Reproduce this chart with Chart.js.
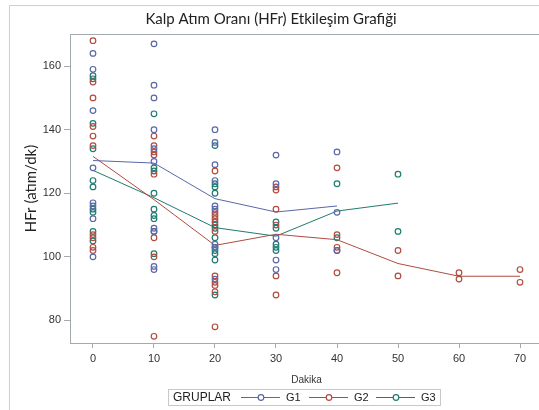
<!DOCTYPE html>
<html>
<head>
<meta charset="utf-8">
<script src="https://cdn.jsdelivr.net/npm/chart.js@4/dist/chart.umd.min.js"></script>
<style>
  html, body { margin: 0; padding: 0; background: #fff; overflow: hidden; }
  canvas { display: block; }
</style>
</head>
<body>
<canvas id="myChart" width="548" height="410"></canvas>
<script>
// minutes on the x axis
const dakika = [0, 10, 20, 30, 40, 50, 60, 70];
const xTicks = [0, 10, 20, 30, 40, 50, 60, 70];
const yTicks = [80, 100, 120, 140, 160];
const groups = ["G1", "G2", "G3"];

// individual HFr readings, one inner array per minute
const g1Values = [
  [164, 159, 146, 128, 117, 116, 112, 100],
  [167, 154, 150, 140, 134, 130, 109, 108, 97, 96],
  [140, 136, 129, 124, 116, 115, 104, 103, 93],
  [132, 123, 106, 99, 96],
  [133, 114, 102],
];
const g2Values = [
  [168, 155, 150, 141, 138, 135, 107, 106, 103, 102],
  [138, 135, 133, 132, 126, 106, 100, 75],
  [127, 114, 113, 112, 111, 108, 94, 92, 91, 89, 78],
  [122, 121, 115, 110, 94, 88],
  [128, 107, 103, 102, 95],
  [102, 94],
  [95, 93],
  [96, 92],
];
const g3Values = [
  [157, 156, 142, 134, 124, 122, 115, 114, 108, 105],
  [145, 128, 127, 120, 115, 113, 112, 108, 101],
  [135, 123, 122, 120, 110, 109, 106, 103, 102, 101, 99, 88],
  [111, 109, 104, 103, 102],
  [123, 106],
  [126, 108],
];

// group means per minute
const g1Mean = [130.3, 129.5, 118.3, 114.1, 116.0];
const g2Mean = [131.6, 118.0, 103.6, 107.1, 105.4, 97.9, 93.9, 93.9];
const g3Mean = [127.2, 118.6, 109.2, 106.5, 114.4, 116.9];

const colors = ["#5a67a8", "#b14b3f", "#1f7b70"];
const axisColor = "#a2aaae";

/**
 * Flatten per-minute readings into scatter points
 * @param {array} values one array of readings per minute
 * @returns array of {x, y}
 */
const toPoints = (values) =>
  values.flatMap((readings, i) => readings.map((v) => ({ x: dakika[i], y: v })));

const toLine = (means) => means.map((v, i) => ({ x: dakika[i], y: v }));

const createDatasets = () => {
  const all = [g1Values, g2Values, g3Values];
  const means = [g1Mean, g2Mean, g3Mean];
  const sets = [];
  groups.forEach((name, i) => {
    sets.push({
      label: name,
      data: toLine(means[i]),
      borderColor: colors[i],
      borderWidth: 1,
      pointRadius: 0,
      tension: 0,
      fill: false,
    });
    sets.push({
      label: name + " obs",
      data: toPoints(all[i]),
      showLine: false,
      borderColor: colors[i],
      backgroundColor: "rgba(0,0,0,0)",
      pointRadius: 2.8,
      pointBorderWidth: 1.2,
      pointHoverRadius: 2.8,
    });
  });
  return sets;
};

// frame, title and legend drawn around the plot
const decorations = {
  id: "decorations",
  beforeDraw(chart) {
    const { ctx, width, height } = chart;
    ctx.save();
    ctx.fillStyle = "#fff";
    ctx.fillRect(0, 0, width, height);
    ctx.strokeStyle = "#cfcfcf";
    ctx.lineWidth = 1;
    ctx.beginPath();
    ctx.moveTo(9.5, height);
    ctx.lineTo(9.5, 5.5);
    ctx.lineTo(width, 5.5);
    ctx.stroke();

    ctx.fillStyle = "#222";
    ctx.font = "15px Lato";
    ctx.textAlign = "center";
    ctx.textBaseline = "middle";
    ctx.fillText("Kalp Atım Oranı (HFr) Etkileşim Grafiği", 271, 19);
    ctx.restore();
  },
  afterDraw(chart) {
    const { ctx, chartArea: a } = chart;
    ctx.save();
    ctx.strokeStyle = axisColor;
    ctx.lineWidth = 1;
    ctx.beginPath();
    ctx.moveTo(Math.round(a.left) + 0.5, Math.round(a.top) + 0.5);
    ctx.lineTo(Math.round(a.right) + 0.5, Math.round(a.top) + 0.5);
    ctx.lineTo(Math.round(a.right) + 0.5, Math.round(a.bottom) + 0.5);
    ctx.stroke();

    // legend box
    const top = 389.5, bottom = 405.5, left = 168.5, right = 440.5;
    ctx.strokeStyle = "#c8c8c8";
    ctx.strokeRect(left, top, right - left, bottom - top);
    const cy = 397.5;
    ctx.fillStyle = "#222";
    ctx.font = "12px 'Liberation Sans'";
    ctx.textAlign = "left";
    ctx.textBaseline = "middle";
    ctx.fillText("GRUPLAR", 173, cy);
    const starts = [241, 309, 376];
    groups.forEach((name, i) => {
      const x0 = starts[i];
      ctx.strokeStyle = colors[i];
      ctx.lineWidth = 1;
      ctx.beginPath();
      ctx.moveTo(x0, cy);
      ctx.lineTo(x0 + 39, cy);
      ctx.stroke();
      ctx.fillStyle = "#fff";
      ctx.lineWidth = 1.2;
      ctx.beginPath();
      ctx.arc(x0 + 20, cy, 2.8, 0, Math.PI * 2);
      ctx.fill();
      ctx.stroke();
      ctx.fillStyle = "#222";
      ctx.font = "11px 'Liberation Sans'";
      ctx.fillText(name, x0 + 45, cy);
    });
    ctx.restore();
  },
};

const ctx = document.getElementById("myChart").getContext("2d");
new Chart(ctx, {
  type: "line",
  data: { datasets: createDatasets() },
  plugins: [decorations],
  options: {
    responsive: false,
    animation: false,
    devicePixelRatio: 1,
    layout: { padding: { top: 34, right: 5, left: 0, bottom: 0 } },
    plugins: {
      legend: { display: false },
      title: { display: false },
      tooltip: { enabled: false },
    },
    scales: {
      x: {
        type: "linear",
        min: -3.77,
        max: 73.77,
        afterFit: (scale) => { scale.height = 67; },
        afterBuildTicks: (scale) => { scale.ticks = xTicks.map((v) => ({ value: v })); },
        grid: { drawOnChartArea: false, tickLength: 5, tickColor: axisColor },
        border: { color: axisColor },
        ticks: {
          padding: 4,
          maxRotation: 0,
          color: "#333",
          font: { family: "'Liberation Sans'", size: 11 },
        },
        title: {
          display: true,
          text: "Dakika",
          color: "#333",
          font: { family: "'Liberation Sans'", size: 10 },
          padding: { top: 0, bottom: 24 },
        },
      },
      y: {
        min: 72.9,
        max: 170.1,
        afterFit: (scale) => { scale.width = 70; },
        afterBuildTicks: (scale) => { scale.ticks = yTicks.map((v) => ({ value: v })); },
        grid: { drawOnChartArea: false, tickLength: 6, tickColor: axisColor },
        border: { color: axisColor },
        ticks: {
          padding: 3,
          color: "#333",
          font: { family: "'Liberation Sans'", size: 11 },
        },
        title: {
          display: true,
          text: "HFr (atım/dk)",
          color: "#222",
          font: { family: "Lato", size: 15 },
          padding: { top: 22, bottom: 0 },
        },
      },
    },
  },
});
</script>
</body>
</html>
